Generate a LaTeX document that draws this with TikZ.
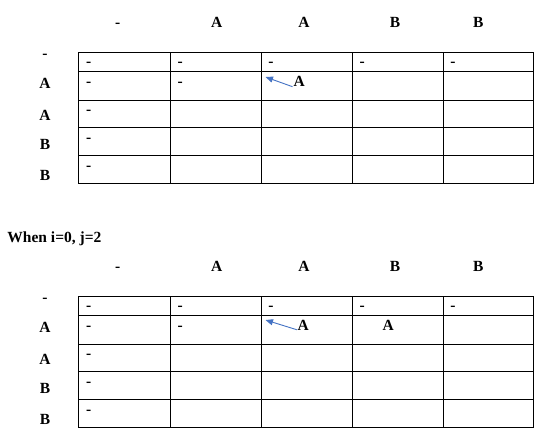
\documentclass[tikz,border=0pt]{standalone}
\usepackage{fontspec}
\setmainfont{Liberation Serif}
\usetikzlibrary{arrows.meta}
\definecolor{arrowblue}{RGB}{68,114,196}
\tikzset{
  lbl/.style={font=\fontsize{15.5}{18}\selectfont\bfseries, inner sep=0pt, anchor=base},
  gridline/.style={line width=0.8pt, draw=black},
  backarrow/.style={draw=arrowblue, line width=0.9pt, -{Triangle[length=7.5pt,width=6pt]}},
}
\newcommand\dptable[2]{%
  \begin{scope}[shift={(0,#1)}]
    \draw[gridline] (78.7,0) rectangle (533.8,131);
    \foreach \x in {170.2,261,352.2,443} \draw[gridline] (\x,0) -- (\x,131);
    \foreach \y in {19.4,48,75.4,103.4} \draw[gridline] (78.7,\y) -- (533.8,\y);
    % column headers
    \node[lbl] (h0#2) at (117.8,-24.5) {-};
    \node[lbl] (h1#2) at (216.6,-24.5) {A};
    \node[lbl] (h2#2) at (304,-24.5) {A};
    \node[lbl] (h3#2) at (395,-24.5) {B};
    \node[lbl] (h4#2) at (478.3,-24.5) {B};
    % row labels
    \node[lbl] (r0#2) at (45,6) {-};
    \node[lbl] (r1#2) at (45,36.5) {A};
    \node[lbl] (r2#2) at (45,67.8) {A};
    \node[lbl] (r3#2) at (45,96.8) {B};
    \node[lbl] (r4#2) at (45,128.2) {B};
    % cell dashes
    \foreach \c/\i in {78.7/0,170.2/1,261/2,352.2/3,443/4}
      \node[lbl] (d0\i#2) at (\c+10,14.5) {-};
    \node[lbl] (d10#2) at (88.7,33.9) {-};
    \node[lbl] (d11#2) at (180.2,33.9) {-};
    \node[lbl] (d20#2) at (88.7,62.5) {-};
    \node[lbl] (d30#2) at (88.7,89.9) {-};
    \node[lbl] (d40#2) at (88.7,117.9) {-};
  \end{scope}}
\begin{document}
\begin{tikzpicture}[x=1pt,y=-1pt]
  \useasboundingbox[fill=white] (0,0) rectangle (544,437);
  \dptable{52.3}{a}
  \dptable{296.3}{b}
  \node[lbl] (a1) at (299.3,86.7) {A};
  \coordinate (t1) at (265.5,77);
  \draw[backarrow] ([xshift=-1pt]a1.base west) -- (t1);
  \node[lbl, anchor=base west] (when) at (7.3,242) {When i=0, j=2};
  \node[lbl] (a2) at (303.3,330.3) {A};
  \node[lbl] (b2) at (388.3,330.3) {A};
  \coordinate (t2) at (265.5,320);
  \draw[backarrow] ([xshift=-0.5pt,yshift=0.5pt]a2.base west) -- (t2);
\end{tikzpicture}
\end{document}
